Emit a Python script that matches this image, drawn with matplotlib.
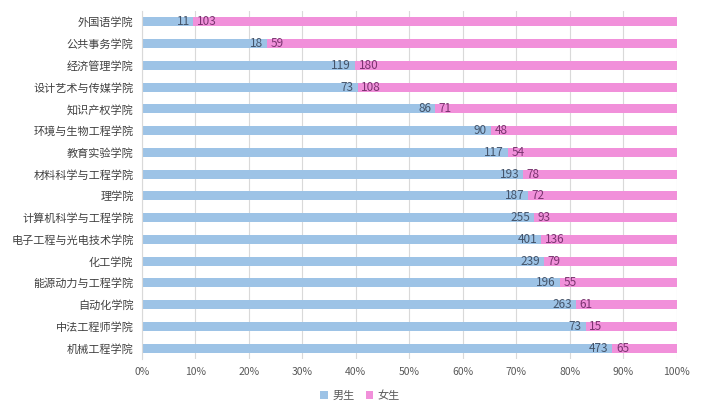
import matplotlib

matplotlib.use("Agg")
import matplotlib.pyplot as plt
import numpy as np
from matplotlib.ticker import PercentFormatter

plt.rcParams["font.family"] = ["Noto Sans CJK SC", "DejaVu Sans"]

colleges = [
    "外国语学院", "公共事务学院", "经济管理学院", "设计艺术与传媒学院", "知识产权学院",
    "环境与生物工程学院", "教育实验学院", "材料科学与工程学院", "理学院", "计算机科学与工程学院",
    "电子工程与光电技术学院", "化工学院", "能源动力与工程学院", "自动化学院", "中法工程师学院",
    "机械工程学院",
]
male = [11, 18, 119, 73, 86, 90, 117, 193, 187, 255, 401, 239, 196, 263, 73, 473]
female = [103, 59, 180, 108, 71, 48, 54, 78, 72, 93, 136, 79, 55, 61, 15, 65]

male_c = "#9DC3E6"
female_c = "#F190DA"

m = np.array(male, dtype=float)
f = np.array(female, dtype=float)
tot = m + f
mp = m / tot
fp = f / tot
y = np.arange(len(colleges))

fig = plt.figure(figsize=(7.2, 4.08), dpi=100)
ax = fig.add_axes([0.197, 0.12, 0.743, 0.853])

ax.barh(y, mp, height=0.42, color=male_c, label="男生", zorder=2)
ax.barh(y, fp, left=mp, height=0.42, color=female_c, label="女生", zorder=2)

for yi, a, mv, fv in zip(y, mp, male, female):
    ax.text(a - 0.007, yi, str(mv), ha="right", va="center", fontsize=8.5, color="#44546A", zorder=3)
    ax.text(a + 0.007, yi, str(fv), ha="left", va="center", fontsize=8.5, color="#7B3470", zorder=3)

ax.set_xlim(0, 1)
ax.set_ylim(len(colleges) - 0.5, -0.5)
ax.set_xticks(np.linspace(0, 1, 11))
ax.xaxis.set_major_formatter(PercentFormatter(1.0, decimals=0))
ax.set_yticks(y)
ax.set_yticklabels(colleges)
ax.tick_params(axis="x", length=0, labelsize=7.5, labelcolor="#595959", pad=6)
ax.tick_params(axis="y", length=0, labelsize=8, labelcolor="#404040", pad=6)
ax.grid(axis="x", color="#D9D9D9", linewidth=0.8, zorder=0)
for s in ["top", "right", "bottom"]:
    ax.spines[s].set_visible(False)
ax.spines["left"].set_color("#D9D9D9")

leg = fig.legend(loc="lower center", bbox_to_anchor=(0.5, -0.008), ncol=2, frameon=False,
                 fontsize=8, handlelength=0.7, handleheight=0.7, columnspacing=1.0, handletextpad=0.4)
for t in leg.get_texts():
    t.set_color("#595959")

fig.savefig("out.png", dpi=100)
plt.close(fig)
